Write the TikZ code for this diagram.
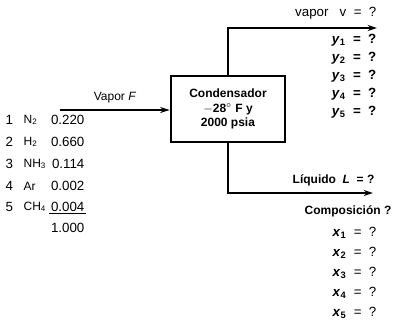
\documentclass[tikz,border=0pt]{standalone}
\usepackage{fontspec}
\setmainfont{Liberation Sans}
\usetikzlibrary{positioning,arrows.meta}

\begin{document}
\begin{tikzpicture}[x=0.75pt,y=-0.75pt,
    flow/.style={line width=2pt,-{Stealth[length=7pt,width=4.5pt]}},
    unit/.style={draw,line width=1.6pt,minimum width=86pt,minimum height=49pt,
      align=center,font=\bfseries\small,inner sep=2pt},
    lbl/.style={inner sep=1pt,font=\small},
    ans/.style={inner sep=1pt,anchor=east,font=\small}]
    \useasboundingbox (0,0) rectangle (394,336);

    % condensador y corrientes
    \node[unit] (cond) at (228,109) {Condensador\\$-$28$^\circ$ F y\\2000 psia};
    \coordinate (feed) at (60,110);
    \coordinate (vout) at (377,28);
    \coordinate (lout) at (373,193);
    \draw[flow] (feed) -- (cond.west |- feed);
    \draw[flow] (cond.north) |- (vout);
    \draw[flow] (cond.south) |- (lout);

    \node[lbl] (fname) at (115,98) {Vapor \textit{F}};
    \node[ans,font=\normalsize] (vname) at (378,13) {vapor\ \ \ v\ \ =\ \ ?};
    \node[ans,font=\bfseries\small] (lname) at (376,180) {L\'iquido\ \ \textit{L}\ \ =\ ?};
    \node[ans,font=\bfseries\small] (comp) at (393,211) {Composici\'on ?};

    % fracciones del vapor
    \foreach \i/\yy in {1/40,2/58,3/76,4/94,5/112}
      \node[ans,font=\bfseries\normalsize] (y\i) at (378,\yy) {\textit{y}\textsubscript{\i}\ \ =\ \ ?};

    % fracciones del liquido
    \foreach \i/\yy in {1/233,2/253,3/273,4/293,5/313}
      \node[ans,font=\normalsize] (x\i) at (378,\yy) {\textbf{\textit{x}\textsubscript{\i}}\ \ =\ \ ?};

    % alimentacion
    \foreach \i/\sp/\val/\yy in {1/N\textsubscript{2}/0.220/120,2/H\textsubscript{2}/0.660/142,
        3/NH\textsubscript{3}/0.114/164,4/Ar/0.002/186,5/CH\textsubscript{4}/0.004/207} {
      \node[lbl,anchor=west,font=\normalsize] (n\i) at (4,\yy) {\i};
      \node[lbl,anchor=west] (s\i) at (22,\yy) {\sp};
      \node[lbl,anchor=east,font=\normalsize] (f\i) at (86,\yy) {\val};
    }
    \draw[line width=0.8pt] (f5.south west) -- (f5.south east);
    \node[lbl,anchor=east,font=\normalsize] (tot) at (86,228) {1.000};
\end{tikzpicture}
\end{document}
